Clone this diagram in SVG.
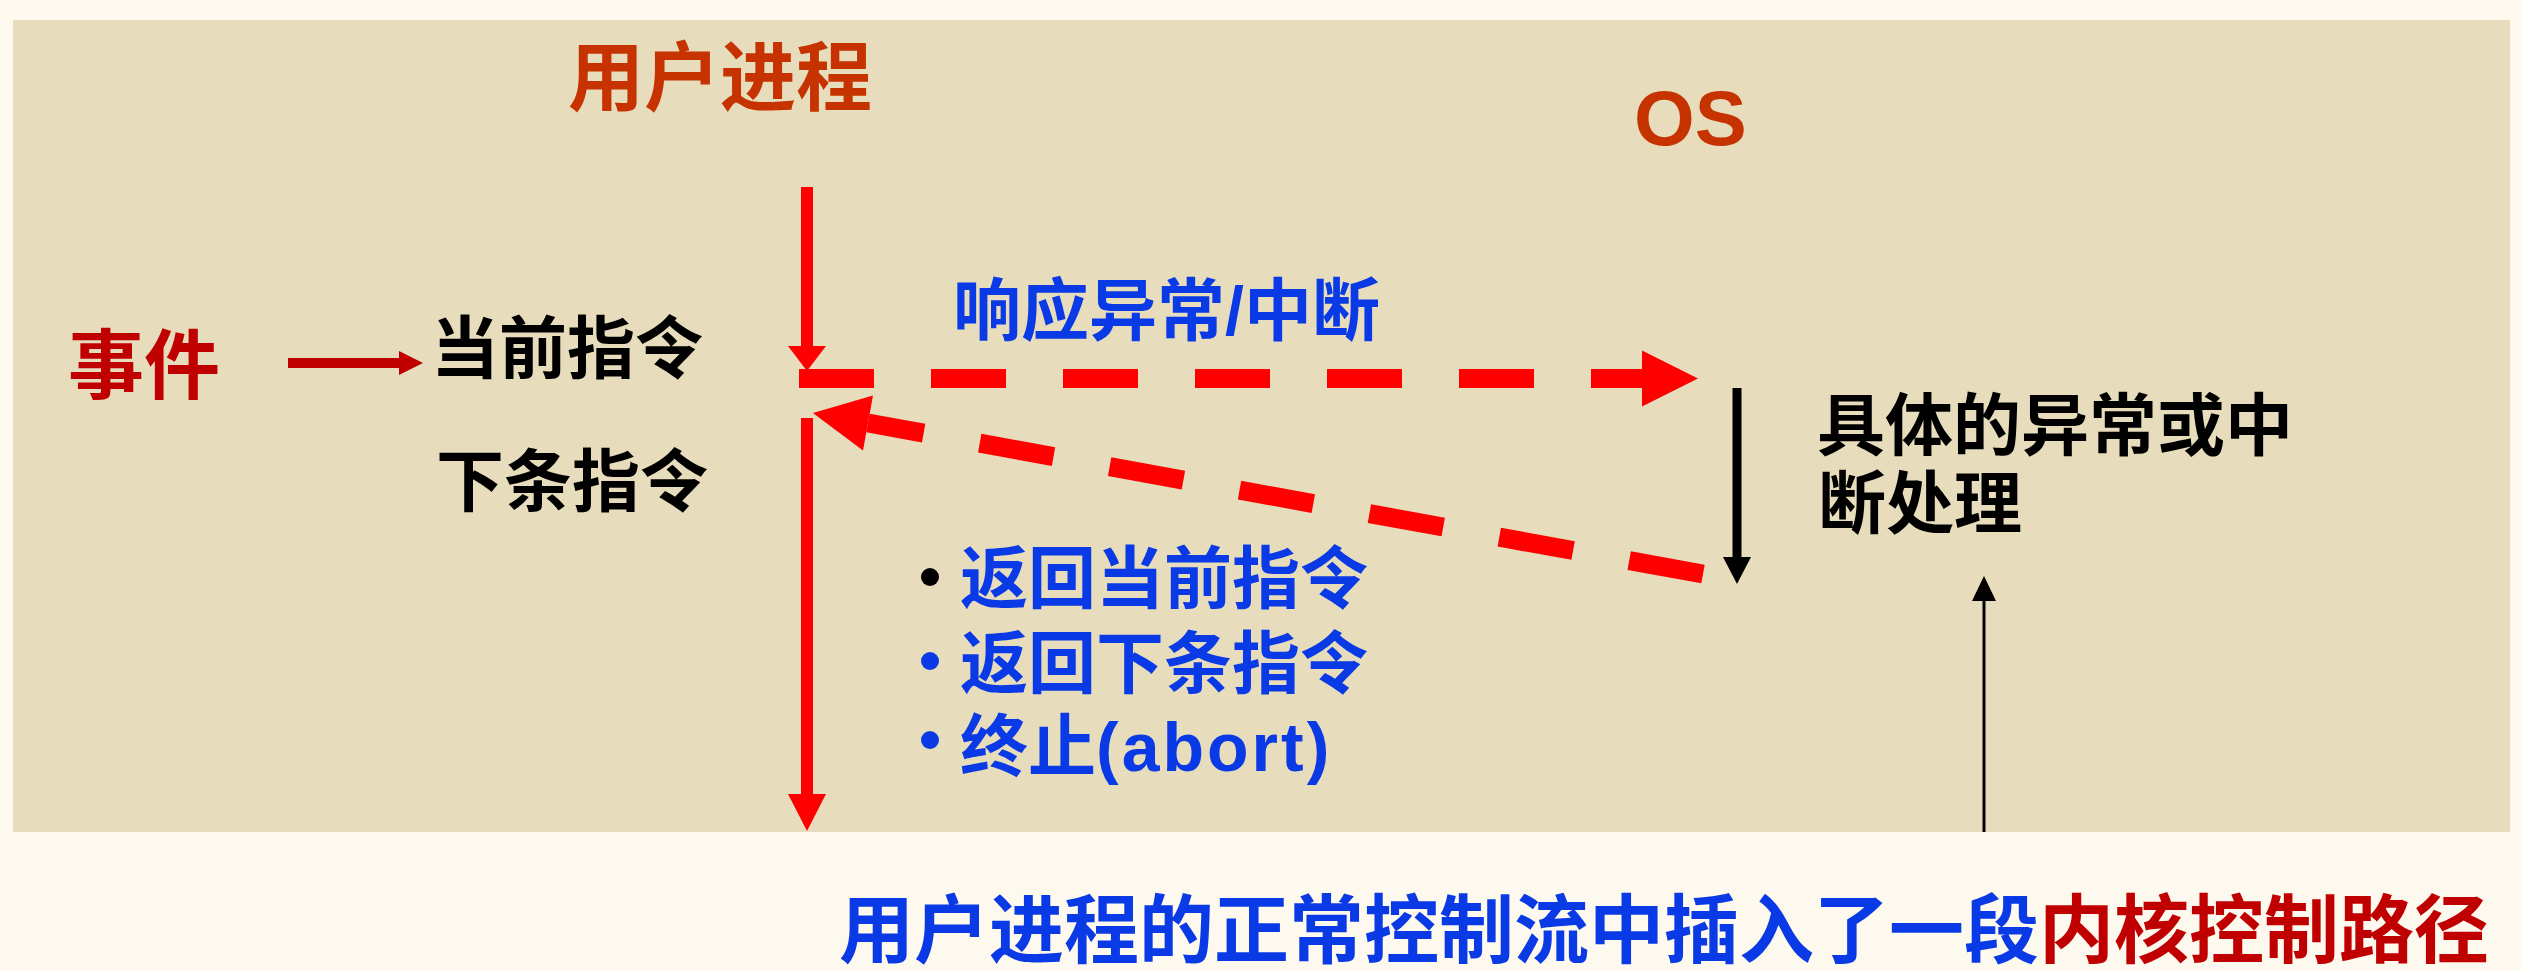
<svg xmlns="http://www.w3.org/2000/svg" width="2521" height="971" viewBox="0 0 2521 971">
  <style>
    .t { font-family: "Liberation Sans", "Noto Sans CJK SC", sans-serif; font-weight: bold; }
    .title { fill: #C63300; font-size: 76px; }
    .dred { fill: #C00000; }
    .blk { fill: #000000; font-size: 68px; }
    .blue { fill: #0A3AE6; font-size: 68px; }
    .redline { stroke: #FF0000; fill: none; }
    .dash { stroke: #FF0000; stroke-width: 19; stroke-dasharray: 75 57; fill: none; }
  </style>
  <defs>
    <marker id="bigHead" markerUnits="userSpaceOnUse" orient="auto" refX="0" refY="0" markerWidth="60" markerHeight="60" viewBox="0 -30 60 60" overflow="visible">
      <path d="M0,-28 L56,0 L0,28 Z" fill="#FF0000"/>
    </marker>
    <marker id="redTop" markerUnits="userSpaceOnUse" orient="auto" refX="0" refY="0" markerWidth="40" markerHeight="40" viewBox="0 -20 40 40" overflow="visible">
      <path d="M0,-19 L25,0 L0,19 Z" fill="#FF0000"/>
    </marker>
    <marker id="redBot" markerUnits="userSpaceOnUse" orient="auto" refX="0" refY="0" markerWidth="40" markerHeight="40" viewBox="0 -20 40 40" overflow="visible">
      <path d="M0,-19 L37,0 L0,19 Z" fill="#FF0000"/>
    </marker>
    <marker id="evHead" markerUnits="userSpaceOnUse" orient="auto" refX="0" refY="0" markerWidth="30" markerHeight="30" viewBox="0 -15 30 30" overflow="visible">
      <path d="M0,-12 L24,0 L0,12 Z" fill="#C00000"/>
    </marker>
    <marker id="blkThick" markerUnits="userSpaceOnUse" orient="auto" refX="0" refY="0" markerWidth="30" markerHeight="30" viewBox="0 -15 30 30" overflow="visible">
      <path d="M0,-14 L27,0 L0,14 Z" fill="#000000"/>
    </marker>
    <marker id="blkThin" markerUnits="userSpaceOnUse" orient="auto" refX="0" refY="0" markerWidth="30" markerHeight="30" viewBox="0 -15 30 30" overflow="visible">
      <path d="M0,-12 L25,0 L0,12 Z" fill="#000000"/>
    </marker>
  </defs>

  <rect x="0" y="0" width="2521" height="971" fill="#FDF9EE"/>
  <rect id="panel" x="13" y="20" width="2497" height="812" fill="#E7DDBD"/>

  <g id="connectors">
    <line x1="288" y1="363" x2="399" y2="363" stroke="#C00000" stroke-width="10" marker-end="url(#evHead)"/>
    <line class="redline" x1="807" y1="187" x2="807" y2="346" stroke-width="12" marker-end="url(#redTop)"/>
    <line class="dash" x1="799" y1="378.5" x2="1642" y2="378.5" marker-end="url(#bigHead)"/>
    <line class="dash" x1="1703" y1="574" x2="868" y2="423" marker-end="url(#bigHead)"/>
    <line class="redline" x1="807" y1="418" x2="807" y2="794" stroke-width="12" marker-end="url(#redBot)"/>
    <line x1="1737" y1="388" x2="1737" y2="557" stroke="#000000" stroke-width="9" marker-end="url(#blkThick)"/>
    <line x1="1984" y1="832" x2="1984" y2="601" stroke="#000000" stroke-width="3" marker-end="url(#blkThin)"/>
  </g>

  <g id="user-process">
    <text class="t title" x="568" y="105">用户进程</text>
  </g>
  <g id="os">
    <text class="t title" x="1634" y="145" style="font-size:78px">OS</text>
  </g>
  <g id="event">
    <text class="t dred" x="68" y="393" style="font-size:76px">事件</text>
  </g>
  <g id="current-instr">
    <text class="t blk" x="431" y="373">当前指令</text>
  </g>
  <g id="next-instr">
    <text class="t blk" x="436" y="506">下条指令</text>
  </g>
  <g id="respond">
    <text class="t blue" x="953" y="335">响应异常/中断</text>
  </g>
  <g id="handler">
    <text class="t blk" x="1817" y="450">具体的异常或中</text>
    <text class="t blk" x="1818" y="528">断处理</text>
  </g>
  <g id="returns">
    <circle cx="930" cy="577" r="9" fill="#000000"/>
    <text class="t blue" x="960" y="603">返回当前指令</text>
    <circle cx="930" cy="661" r="9" fill="#0A3AE6"/>
    <text class="t blue" x="960" y="688">返回下条指令</text>
    <circle cx="930" cy="740" r="9" fill="#0A3AE6"/>
    <text class="t blue" x="960" y="771">终止<tspan style="letter-spacing:3px">(abort)</tspan></text>
  </g>
  <g id="caption">
    <text class="t" x="839" y="957" style="font-size:75px"><tspan fill="#0A3AE6">用户进程的正常控制流中插入了一段</tspan><tspan fill="#C00000">内核控制路径</tspan></text>
  </g>
</svg>
